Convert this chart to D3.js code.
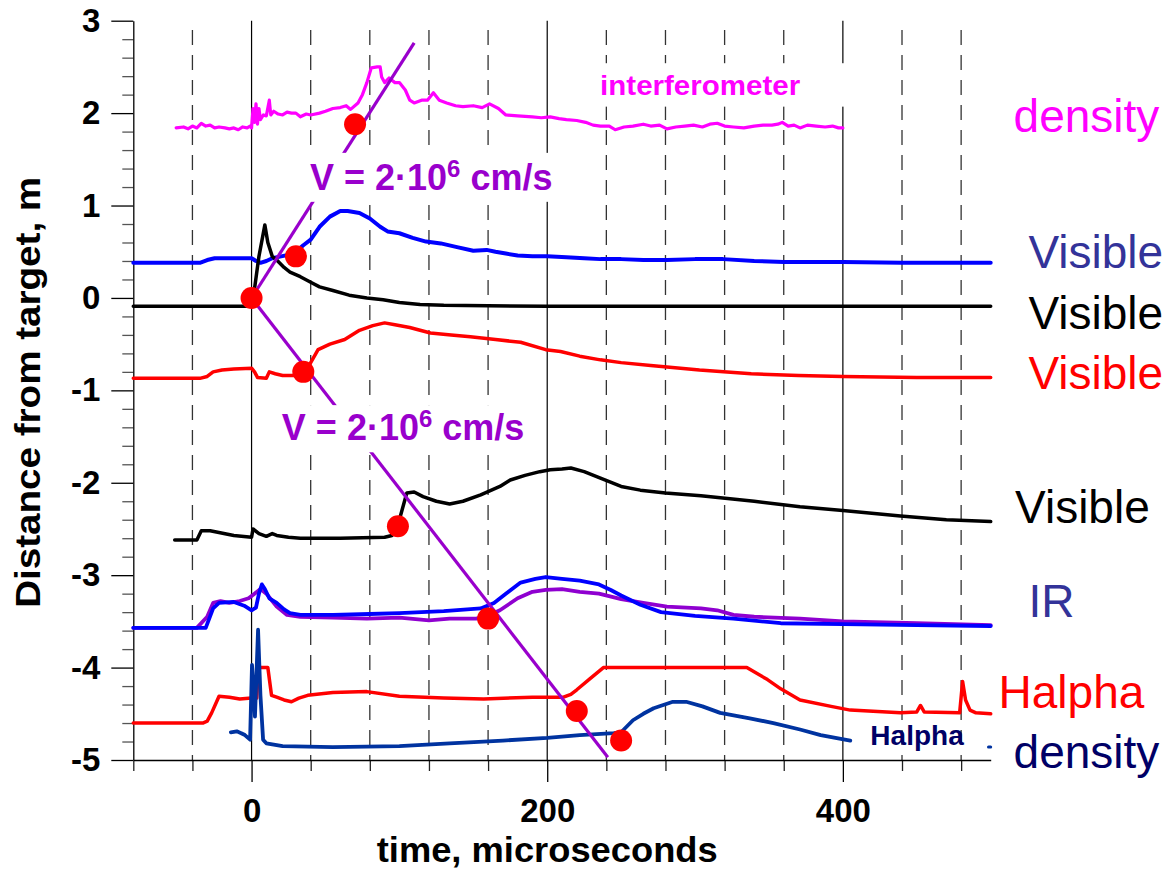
<!DOCTYPE html>
<html>
<head>
<meta charset="utf-8">
<title>Distance from target vs time</title>
<style>
  body { margin: 0; background: #fff; }
  svg { display: block; font-family: "Liberation Sans", Arial, sans-serif; }
  .grid-major { stroke: #000; stroke-width: 1.2px; }
  .grid-minor { stroke: #333; stroke-width: 1.3px; stroke-dasharray: 15,10; }
  .curve { fill: none; stroke-linejoin: round; stroke-linecap: round; }
</style>
<script src="https://d3js.org/d3.v7.min.js"></script>
</head>
<body>
<svg id="chart" width="1171" height="872"></svg>
<script>
// traces: [time (microseconds), distance (m)]
var interferometer = [[-51,1.84],[-46,1.85],[-43,1.83],[-40,1.86],[-37,1.84],[-34,1.89],[-31,1.86],[-28,1.87],[-25,1.84],[-22,1.85],[-18,1.84],[-15,1.83],[-12,1.84],[-9,1.82],[-6,1.85],[-3,1.84],[-1,1.86],[0,1.84],[1,2.05],[2,1.9],[3,2.1],[4,1.88],[5,2.05],[6,1.93],[8,1.98],[10,1.97],[12,2.14],[13,1.98],[15,2.02],[18,1.99],[21,1.98],[24,2.01],[27,2.0],[30,2.0],[33,1.96],[37,1.99],[40,1.98],[46,2.0],[50,2.02],[55,2.05],[60,2.06],[64,2.08],[67,2.04],[72,2.11],[75,2.2],[78,2.33],[81,2.49],[85,2.5],[87,2.5],[88,2.39],[90,2.33],[93,2.38],[97,2.33],[100,2.33],[104,2.25],[107,2.14],[110,2.11],[115,2.14],[119,2.14],[123,2.22],[127,2.14],[132,2.11],[138,2.08],[143,2.07],[150,2.08],[156,2.06],[161,2.1],[167,2.05],[172,1.98],[180,1.97],[190,1.96],[196,1.95],[202,1.96],[208,1.94],[213,1.93],[220,1.92],[226,1.9],[231,1.87],[236,1.86],[242,1.86],[246,1.82],[252,1.85],[258,1.86],[265,1.88],[270,1.86],[276,1.87],[281,1.83],[287,1.85],[293,1.86],[299,1.87],[305,1.85],[310,1.88],[315,1.89],[320,1.86],[326,1.85],[333,1.84],[340,1.86],[346,1.87],[352,1.87],[356,1.88],[359,1.9],[363,1.86],[367,1.87],[371,1.84],[376,1.87],[382,1.86],[388,1.85],[393,1.86],[397,1.84],[400,1.84]];

var visibleBlue = [[-80,0.38],[-60,0.38],[-40,0.38],[-35,0.38],[-30,0.41],[-25,0.43],[-15,0.43],[0,0.43],[3,0.4],[6,0.38],[10,0.4],[14,0.43],[20,0.45],[26,0.47],[30,0.5],[35,0.57],[40,0.63],[46,0.77],[53,0.88],[60,0.94],[65,0.94],[69,0.93],[73,0.92],[80,0.86],[87,0.77],[92,0.72],[100,0.7],[109,0.65],[118,0.61],[128,0.59],[139,0.55],[150,0.51],[159,0.52],[165,0.5],[172,0.48],[180,0.46],[190,0.45],[200,0.45],[213,0.44],[225,0.43],[236,0.42],[250,0.42],[265,0.41],[281,0.41],[300,0.42],[319,0.42],[340,0.4],[360,0.39],[400,0.39],[440,0.38],[470,0.38],[500,0.38]];

var visibleBlack = [[-80,-0.09],[-40,-0.09],[0,-0.09],[2,0.1],[5,0.45],[9,0.79],[11,0.6],[14,0.45],[17,0.41],[22,0.33],[26,0.28],[33,0.23],[40,0.17],[46,0.12],[55,0.08],[66,0.03],[78,0.0],[89,-0.02],[100,-0.05],[114,-0.07],[130,-0.08],[200,-0.09],[300,-0.09],[500,-0.09]];

var visibleRed = [[-80,-0.87],[-35,-0.87],[-30,-0.85],[-26,-0.8],[-20,-0.78],[-12,-0.77],[0,-0.76],[2,-0.8],[4,-0.86],[10,-0.87],[12,-0.8],[16,-0.82],[21,-0.84],[30,-0.84],[36,-0.82],[40,-0.7],[45,-0.56],[53,-0.5],[63,-0.45],[73,-0.35],[82,-0.3],[90,-0.27],[97,-0.29],[107,-0.32],[121,-0.38],[135,-0.4],[148,-0.42],[165,-0.45],[182,-0.48],[199,-0.56],[209,-0.58],[222,-0.63],[236,-0.67],[250,-0.7],[270,-0.73],[303,-0.78],[338,-0.82],[370,-0.84],[400,-0.85],[450,-0.86],[500,-0.86]];

var visibleLower = [[-52,-2.62],[-37,-2.62],[-34,-2.52],[-28,-2.52],[-12,-2.57],[0,-2.59],[1,-2.5],[5,-2.55],[10,-2.58],[14,-2.55],[17,-2.57],[25,-2.59],[33,-2.6],[60,-2.6],[90,-2.59],[95,-2.57],[100,-2.4],[105,-2.11],[110,-2.1],[116,-2.15],[125,-2.2],[134,-2.23],[143,-2.2],[155,-2.13],[168,-2.04],[175,-1.97],[185,-1.92],[195,-1.88],[202,-1.86],[210,-1.85],[216,-1.84],[225,-1.88],[236,-1.95],[250,-2.04],[263,-2.08],[280,-2.11],[304,-2.14],[340,-2.2],[371,-2.26],[400,-2.3],[439,-2.36],[470,-2.4],[500,-2.42]];

var irBlue = [[-80,-3.57],[-31,-3.57],[-26,-3.36],[-22,-3.3],[-12,-3.29],[-5,-3.33],[0,-3.38],[3,-3.35],[5,-3.2],[7,-3.1],[9,-3.15],[12,-3.25],[17,-3.3],[22,-3.37],[26,-3.41],[33,-3.43],[55,-3.43],[80,-3.42],[100,-3.41],[130,-3.39],[155,-3.36],[164,-3.3],[172,-3.2],[182,-3.08],[192,-3.04],[199,-3.02],[210,-3.04],[222,-3.06],[235,-3.1],[243,-3.16],[250,-3.22],[263,-3.32],[277,-3.4],[300,-3.44],[326,-3.47],[358,-3.52],[400,-3.53],[450,-3.54],[500,-3.55]];

var irPurple = [[-80,-3.57],[-37,-3.57],[-30,-3.45],[-26,-3.3],[-21,-3.28],[-15,-3.3],[-8,-3.28],[-2,-3.25],[2,-3.2],[6,-3.15],[10,-3.2],[14,-3.28],[17,-3.34],[24,-3.43],[33,-3.45],[55,-3.46],[78,-3.47],[100,-3.46],[120,-3.49],[134,-3.47],[152,-3.47],[160,-3.44],[168,-3.38],[180,-3.25],[190,-3.18],[199,-3.16],[210,-3.15],[222,-3.18],[235,-3.2],[250,-3.26],[265,-3.3],[281,-3.34],[304,-3.36],[315,-3.38],[326,-3.43],[340,-3.45],[371,-3.47],[400,-3.5],[450,-3.52],[500,-3.54]];

var halphaRed = [[-80,-4.6],[-33,-4.6],[-30,-4.58],[-27,-4.49],[-22,-4.31],[-15,-4.32],[-8,-4.34],[0,-4.33],[3.5,-4.33],[4.5,-4.0],[11,-4.0],[13.5,-4.3],[17,-4.32],[22,-4.35],[27,-4.37],[32,-4.33],[38,-4.3],[55,-4.27],[78,-4.26],[100,-4.31],[130,-4.33],[157,-4.34],[190,-4.32],[211,-4.32],[216,-4.29],[220,-4.24],[229,-4.12],[238,-4.0],[335,-4.0],[349,-4.13],[358,-4.23],[371,-4.35],[392,-4.42],[405,-4.46],[439,-4.49],[450,-4.48],[452.5,-4.41],[455,-4.48],[479,-4.49],[481,-4.15],[483,-4.35],[486,-4.46],[490,-4.49],[500,-4.5]];

var halphaDensity = [[-14,-4.7],[-10,-4.69],[-7,-4.71],[-4.5,-4.73],[-1,-4.78],[0.3,-3.97],[2.3,-4.53],[4.4,-3.59],[6,-4.3],[7.8,-4.78],[10,-4.82],[21,-4.85],[55,-4.86],[100,-4.85],[134,-4.82],[170,-4.79],[200,-4.76],[222,-4.73],[245,-4.71],[250,-4.7],[258,-4.57],[265,-4.5],[272,-4.44],[285,-4.37],[294,-4.37],[305,-4.42],[317,-4.49],[337,-4.55],[353,-4.6],[371,-4.67],[385,-4.73],[405,-4.79]];
var halphaDensityTail = [[498.5,-4.86],[500,-4.86]];

// front arrival points and velocity lines
var arrivals = [[0,0],[30,0.45],[70,1.88],[35,-0.8],[99,-2.47],[160,-3.47],[220,-4.47],[250,-4.79]];
var velocityUp = [[0,0],[110,2.76]];
var velocityDown = [[0,0],[241,-4.97]];

var yTicks = [-5,-4,-3,-2,-1,0,1,2,3];
var xTicks = [0,200,400];
var xMinorTicks = [-80,-40,40,80,120,160,240,280,320,360,440,480];

var purple = "#9900cc";

var svg = d3.select("#chart");
var x = d3.scaleLinear().domain([-80, 500]).range([133.3, 990.7]);
var y = d3.scaleLinear().domain([-5, 3]).range([760, 20.7]);

// vertical grid
svg.selectAll(".grid-major").data(xTicks).enter().append("line")
    .attr("class", "grid-major")
    .attr("x1", function(d) { return x(d); }).attr("x2", function(d) { return x(d); })
    .attr("y1", y(3)).attr("y2", y(-5));
svg.selectAll(".grid-minor").data(xMinorTicks.filter(function(d) { return d > -80; })).enter().append("line")
    .attr("class", "grid-minor")
    .attr("x1", function(d) { return x(d); }).attr("x2", function(d) { return x(d); })
    .attr("y1", y(2.9)).attr("y2", y(-5));

// axes
var yMinor = d3.range(-50, 31, 2).filter(function(d) { return d % 10 !== 0; }).map(function(d) { return d / 10; });
svg.append("g").attr("transform", "translate(" + x(-80) + ",0)")
    .call(d3.axisLeft(y).tickValues(yMinor).tickSize(11).tickFormat("").tickSizeOuter(0))
    .call(function(g) { g.select(".domain").remove(); g.selectAll("line").attr("stroke", "#555").attr("stroke-width", 1.3); });
svg.append("g").attr("transform", "translate(" + x(-80) + ",0)")
    .call(d3.axisLeft(y).tickValues(yTicks).tickSize(22).tickPadding(11).tickSizeOuter(0).tickFormat(function(d) { return String(d); }))
    .call(function(g) {
        g.select(".domain").attr("stroke-width", 1.3);
        g.selectAll("line").attr("stroke-width", 1.3);
        g.selectAll("text").attr("font-size", 33).attr("font-weight", "bold").attr("font-family", "'Liberation Sans', Arial, sans-serif").attr("fill", "#000");
    });
svg.append("g").attr("transform", "translate(0," + y(-5) + ")")
    .call(d3.axisBottom(x).tickValues(xMinorTicks).tickSize(11).tickFormat("").tickSizeOuter(0))
    .call(function(g) { g.select(".domain").remove(); g.selectAll("line").attr("stroke", "#222").attr("stroke-width", 1.3); });
svg.append("g").attr("transform", "translate(0," + y(-5) + ")")
    .call(d3.axisBottom(x).tickValues(xTicks).tickSize(22).tickPadding(17).tickSizeOuter(0).tickFormat(function(d) { return String(d); }))
    .call(function(g) {
        g.select(".domain").attr("stroke-width", 1.3);
        g.selectAll("line").attr("stroke-width", 1.3);
        g.selectAll("text").attr("font-size", 33).attr("font-weight", "bold").attr("font-family", "'Liberation Sans', Arial, sans-serif").attr("fill", "#000");
    });

// axis titles
svg.append("text")
    .attr("transform", "translate(40," + ((y(3) + y(-5)) / 2 + 2) + ") rotate(-90)")
    .attr("text-anchor", "middle").attr("font-size", 35).attr("font-weight", "bold")
    .attr("textLength", 431).attr("lengthAdjust", "spacingAndGlyphs")
    .text("Distance from target, m");
svg.append("text")
    .attr("x", x(200)).attr("y", 862)
    .attr("text-anchor", "middle").attr("font-size", 35).attr("font-weight", "bold")
    .attr("textLength", 341).attr("lengthAdjust", "spacingAndGlyphs")
    .text("time, microseconds");

// curves
var line = d3.line().x(function(d) { return x(d[0]); }).y(function(d) { return y(d[1]); });
var traces = [
    { data: interferometer, color: "#ff00ff", w: 3.2 },
    { data: visibleBlue, color: "#0000ff", w: 4 },
    { data: visibleBlack, color: "#000000", w: 3.5 },
    { data: visibleRed, color: "#ff0000", w: 3.5 },
    { data: visibleLower, color: "#000000", w: 3.5 },
    { data: irPurple, color: "#8f00d0", w: 3.8 },
    { data: irBlue, color: "#0000ff", w: 3.8 },
    { data: halphaRed, color: "#ff0000", w: 3.5 },
    { data: halphaDensity, color: "#0033a0", w: 3.8 },
    { data: halphaDensityTail, color: "#0033a0", w: 3 }
];
svg.selectAll(".curve").data(traces).enter().append("path")
    .attr("class", "curve")
    .attr("stroke", function(d) { return d.color; })
    .attr("stroke-width", function(d) { return d.w; })
    .attr("d", function(d) { return line(d.data); });

// velocity lines
svg.selectAll(".vline").data([velocityUp, velocityDown]).enter().append("path")
    .attr("class", "vline").attr("fill", "none").attr("stroke", purple).attr("stroke-width", 3.2)
    .attr("d", line);

// white label boxes
var boxes = [
    { t0: 36, t1: 204, v0: 1.57, v1: 1.04 },
    { t0: 17.8, t1: 188.4, v0: -1.16, v1: -1.67 },
    { t0: 229, t1: 402.5, v0: 2.54, v1: 2.07 }
];
svg.selectAll(".box").data(boxes).enter().append("rect")
    .attr("class", "box").attr("fill", "#fff")
    .attr("x", function(d) { return x(d.t0); }).attr("width", function(d) { return x(d.t1) - x(d.t0); })
    .attr("y", function(d) { return y(d.v0); }).attr("height", function(d) { return y(d.v1) - y(d.v0); });

function velocityLabel(t, v) {
    var txt = svg.append("text").attr("x", x(t)).attr("y", y(v))
        .attr("fill", purple).attr("font-size", 36).attr("font-weight", "bold");
    txt.append("tspan").text("V = 2\u00b710");
    txt.append("tspan").attr("font-size", 24).attr("dy", -13).text("6");
    txt.append("tspan").attr("dy", 13).text(" cm/s");
}
velocityLabel(39.5, 1.17);
velocityLabel(20.5, -1.54);

svg.append("text").attr("x", x(235.8)).attr("y", y(2.197))
    .attr("fill", "#ff00ff").attr("font-size", 27).attr("font-weight", "bold")
    .attr("textLength", 200).attr("lengthAdjust", "spacingAndGlyphs")
    .text("interferometer");
svg.append("text").attr("x", x(418.6)).attr("y", y(-4.838))
    .attr("fill", "#000066").attr("font-size", 28).attr("font-weight", "bold")
    .text("Halpha");

// right-hand trace names
var names = [
    { text: "density", t: 515.5, v: 1.797, color: "#ff00ff" },
    { text: "Visible", t: 525.5, v: 0.324, color: "#333399" },
    { text: "Visible", t: 525.5, v: -0.336, color: "#000000" },
    { text: "Visible", t: 525.5, v: -0.986, color: "#ff0000" },
    { text: "Visible", t: 516.5, v: -2.435, color: "#000000" },
    { text: "IR", t: 525.5, v: -3.452, color: "#333399" },
    { text: "Halpha", t: 505.3, v: -4.437, color: "#ff0000" },
    { text: "density", t: 515.5, v: -5.087, color: "#000066" }
];
svg.selectAll(".name").data(names).enter().append("text")
    .attr("class", "name")
    .attr("x", function(d) { return x(d.t); }).attr("y", function(d) { return y(d.v); })
    .attr("fill", function(d) { return d.color; })
    .attr("font-size", 46)
    .text(function(d) { return d.text; });

// arrival points
svg.selectAll(".dot").data(arrivals).enter().append("circle")
    .attr("class", "dot").attr("fill", "#ff0000").attr("r", 11)
    .attr("cx", function(d) { return x(d[0]); }).attr("cy", function(d) { return y(d[1]); });
</script>
</body>
</html>
